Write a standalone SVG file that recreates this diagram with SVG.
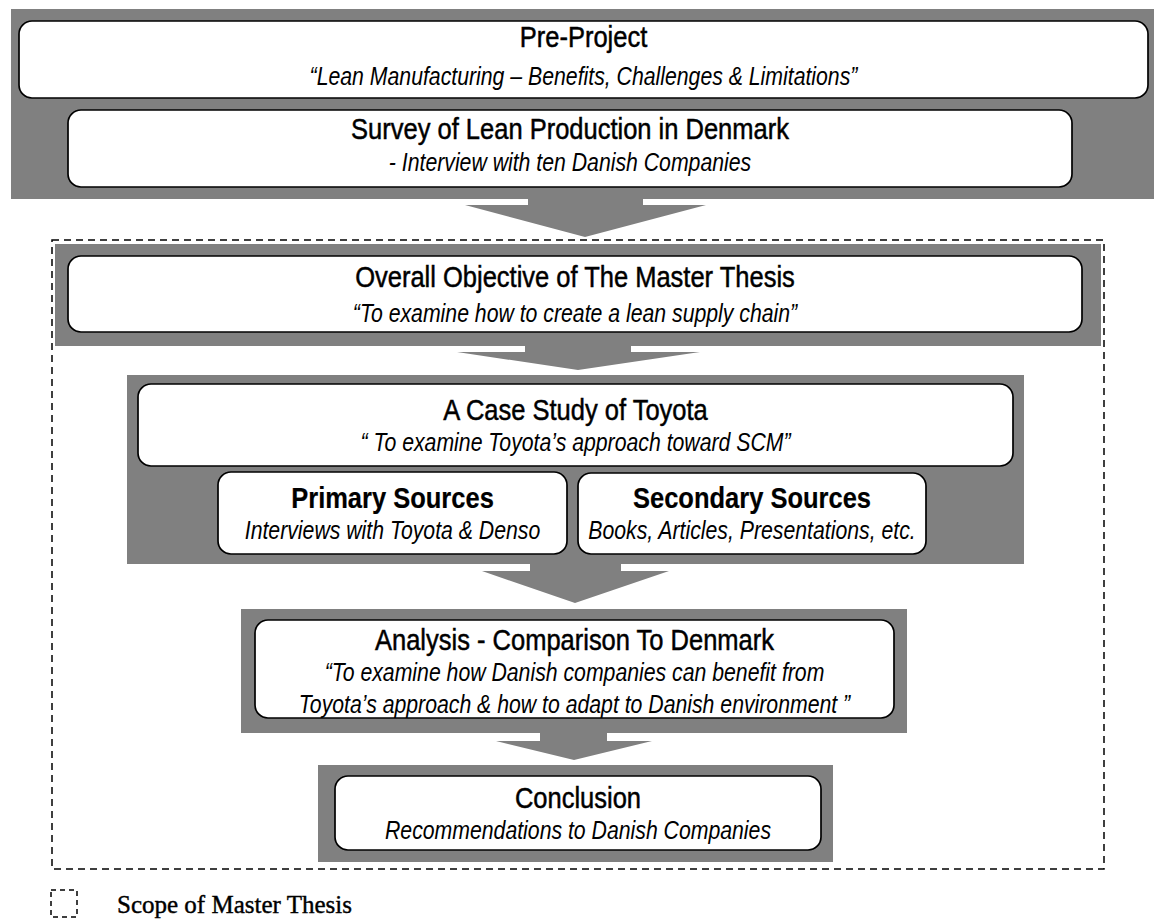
<svg xmlns="http://www.w3.org/2000/svg" width="1154" height="919" viewBox="0 0 1154 919">
<style>
.band{fill:#808080}
.box{fill:#fff;stroke:#000;stroke-width:1.7}
.arrow{fill:#808080}
.t{font-family:"Liberation Sans",Arial,sans-serif;font-size:30px;text-anchor:middle;fill:#000;stroke:#000;stroke-width:0.5}
.tb{font-weight:bold;stroke-width:0.2}
.s{font-family:"Liberation Sans",Arial,sans-serif;font-size:25px;font-style:italic;text-anchor:middle;fill:#000}
.scope{fill:none;stroke:#000;stroke-width:1.5;stroke-dasharray:7 5}
.legend{font-family:"Liberation Serif","Times New Roman",serif;font-size:25px;fill:#000;stroke:#000;stroke-width:0.4}
</style>
<rect width="1154" height="919" fill="#fff"/>

<g id="scope-frame">
<rect class="scope" x="52" y="240" width="1052" height="629"/>
</g>

<g id="band-preproject"><rect class="band" x="11" y="9" width="1143" height="190"/></g>
<g id="band-objective"><rect class="band" x="55" y="244" width="1046" height="102"/></g>
<g id="band-casestudy"><rect class="band" x="127" y="375" width="897" height="189"/></g>
<g id="band-analysis"><rect class="band" x="241" y="609" width="666" height="124"/></g>
<g id="band-conclusion"><rect class="band" x="318" y="765" width="515" height="97"/></g>

<g id="connectors">
<polygon class="arrow" points="528,198 643,198 643,205 706,205 585,237 465,205 528,205"/>
<polygon class="arrow" points="525,345 631,345 631,352 700,352 578,370 457,352 525,352"/>
<polygon class="arrow" points="530,563 621,563 621,571 669,571 575,603 482,571 530,571"/>
<polygon class="arrow" points="540,732 607,732 607,741 652,741 574,760 496,741 540,741"/>
</g>

<g id="node-preproject">
<rect class="box" x="19" y="21" width="1129" height="77" rx="13"/>
<text class="t" transform="translate(583.5 47) scale(0.85 1)">Pre-Project</text>
<text class="s" transform="translate(583.5 85) scale(0.85 1)">“Lean Manufacturing – Benefits, Challenges &amp; Limitations”</text>
</g>

<g id="node-survey">
<rect class="box" x="68" y="110" width="1004" height="77" rx="13"/>
<text class="t" transform="translate(570 139) scale(0.85 1)">Survey of Lean Production in Denmark</text>
<text class="s" transform="translate(570 171) scale(0.85 1)">- Interview with ten Danish Companies</text>
</g>

<g id="node-objective">
<rect class="box" x="68" y="256" width="1014" height="76" rx="13"/>
<text class="t" transform="translate(575 287) scale(0.85 1)">Overall Objective of The Master Thesis</text>
<text class="s" transform="translate(575 322) scale(0.85 1)">“To examine how to create a lean supply chain”</text>
</g>

<g id="node-casestudy">
<rect class="box" x="138" y="384" width="875" height="82" rx="13"/>
<text class="t" transform="translate(575.5 420) scale(0.85 1)">A Case Study of Toyota</text>
<text class="s" transform="translate(575.5 451) scale(0.85 1)">“ To examine Toyota’s approach toward SCM”</text>
</g>

<g id="node-primary">
<rect class="box" x="218" y="472" width="349" height="82" rx="13"/>
<text class="t tb" transform="translate(392.5 508) scale(0.85 1)">Primary Sources</text>
<text class="s" transform="translate(392.5 539) scale(0.85 1)">Interviews with Toyota &amp; Denso</text>
</g>

<g id="node-secondary">
<rect class="box" x="578" y="473" width="348" height="81" rx="13"/>
<text class="t tb" transform="translate(752 508) scale(0.85 1)">Secondary Sources</text>
<text class="s" transform="translate(752 539) scale(0.85 1)">Books, Articles, Presentations, etc.</text>
</g>

<g id="node-analysis">
<rect class="box" x="255" y="620" width="639" height="98" rx="13"/>
<text class="t" transform="translate(574.5 650) scale(0.85 1)">Analysis - Comparison To Denmark</text>
<text class="s" transform="translate(574.5 681) scale(0.85 1)">“To examine how Danish companies can benefit from</text>
<text class="s" transform="translate(574.5 713) scale(0.85 1)">Toyota’s approach &amp; how to adapt to Danish environment ”</text>
</g>

<g id="node-conclusion">
<rect class="box" x="335" y="776" width="486" height="74" rx="13"/>
<text class="t" transform="translate(578 808) scale(0.85 1)">Conclusion</text>
<text class="s" transform="translate(578 839) scale(0.85 1)">Recommendations to Danish Companies</text>
</g>

<g id="legend">
<rect class="scope" x="51" y="890" width="26" height="27" style="stroke-dasharray:5 4"/>
<text class="legend" x="117" y="913">Scope of Master Thesis</text>
</g>
</svg>
